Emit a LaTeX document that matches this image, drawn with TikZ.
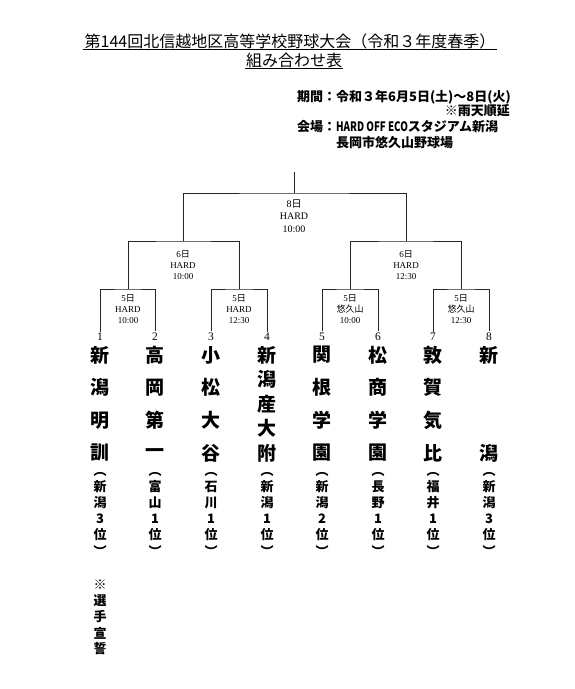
\documentclass[tikz,border=0pt]{standalone}
\usepackage{fontspec}
\newfontfamily\jp{Noto Sans CJK JP}
\newfontfamily\lser{Liberation Serif}
\tikzset{
 bl/.style={line width=0.9pt, draw=black!85},
 ttl/.style={font=\jp\fontsize{16}{16}\selectfont, inner sep=1pt},
 info/.style={font=\jp\bfseries\fontsize{13}{13}\selectfont, inner sep=0pt},
 team/.style={font=\jp\bfseries\fontsize{19}{19}\selectfont, inner sep=0pt},
 sub/.style={font=\jp\bfseries\fontsize{13}{13}\selectfont, inner sep=0pt},
 num/.style={font=\lser\fontsize{11.5}{11.5}\selectfont, inner sep=1.5pt},
 mlab/.style={align=center, font=\lser\fontsize{9}{11}\selectfont, inner sep=0pt},
 tlab/.style={align=center, font=\lser\fontsize{10}{12.5}\selectfont, inner sep=0pt},
}
\newcommand\teamcol[5]{%
  \pgfmathsetmacro\stp{98/(#3-1)}%
  \foreach \ch [count=\i] in {#4} { \node[team] (t#1c\i) at (#2, {355+(\i-1)*\stp}) {\ch}; }
  \node[sub] (t#1o) at (#2,474) {︵};
  \foreach \ch [count=\i] in {#5} { \node[sub] (t#1s\i) at (#2,{487+(\i-1)*15.7}) {\ch}; }
  \node[sub] (t#1e) at (#2,551) {︶};
}
\begin{document}
\begin{tikzpicture}[x=1pt,y=-1pt]
\useasboundingbox[fill=white] (0,0) rectangle (575,689);
% title
\node[ttl] (ti1) at (290,41) {第144回北信越地区高等学校野球大会（令和３年度春季）};
\draw[line width=0.8pt] (ti1.south west) -- (ti1.south east);
\node[ttl] (ti2) at (294,60) {組み合わせ表};
\draw[line width=0.8pt] (ti2.south west) -- (ti2.south east);
% info
\node[info, anchor=west] (p1) at (297,97) {期間：令和３年6月5日(土)～8日(火)};
\node[info, anchor=east] (p2) at (510,111) {※雨天順延};
\node[info, anchor=west] (p3) at (297,127) {会場：\scalebox{0.75}[1]{HARD OFF ECO}スタジアム新潟};
\node[info, anchor=west] (p4) at (336,143) {長岡市悠久山野球場};
% numbers
\foreach \k/\x in {1/100,2/155,3/211,4/267,5/322,6/378,7/433,8/489}
  \node[num] (n\k) at (\x,337) {\k};
% match points
\coordinate (m1) at (128,289);
\coordinate (m2) at (239,289);
\coordinate (m3) at (350,289);
\coordinate (m4) at (461,289);
\coordinate (q1) at (183,241);
\coordinate (q2) at (406,241);
\coordinate (f) at (294,193);
\coordinate (top) at (294,172);
\draw[bl] (n1.north) |- (m1) -| (n2.north);
\draw[bl] (n3.north) |- (m2) -| (n4.north);
\draw[bl] (n5.north) |- (m3) -| (n6.north);
\draw[bl] (n7.north) |- (m4) -| (n8.north);
\draw[bl] (m1) |- (q1) -| (m2);
\draw[bl] (m3) |- (q2) -| (m4);
\draw[bl] (q1) |- (f) -| (q2);
\draw[bl] (f) -- (top);
% match labels
\node[tlab] (l0) at (294,216) {8{\jp 日}\\HARD\\10:00};
\node[mlab] (l1) at (183,265) {6{\jp 日}\\HARD\\10:00};
\node[mlab] (l2) at (406,265) {6{\jp 日}\\HARD\\12:30};
\node[mlab] (l3) at (128,309) {5{\jp 日}\\HARD\\10:00};
\node[mlab] (l4) at (239,309) {5{\jp 日}\\HARD\\12:30};
\node[mlab] (l5) at (350,309) {5{\jp 日}\\{\jp 悠久山}\\10:00};
\node[mlab] (l6) at (461,309) {5{\jp 日}\\{\jp 悠久山}\\12:30};
% teams
\teamcol{1}{100}{4}{新,潟,明,訓}{新,潟,3,位}
\teamcol{2}{155}{4}{高,岡,第,一}{富,山,1,位}
\teamcol{3}{211}{4}{小,松,大,谷}{石,川,1,位}
\teamcol{4}{267}{5}{新,潟,産,大,附}{新,潟,1,位}
\teamcol{5}{322}{4}{関,根,学,園}{新,潟,2,位}
\teamcol{6}{378}{4}{松,商,学,園}{長,野,1,位}
\teamcol{7}{433}{4}{敦,賀,気,比}{福,井,1,位}
\teamcol{8}{489}{2}{新,潟}{新,潟,3,位}
% oath note
\foreach \ch [count=\i] in {※,選,手,宣,誓}
  \node[sub] (o\i) at (100,{585+(\i-1)*16}) {\ch};
\end{tikzpicture}
\end{document}
